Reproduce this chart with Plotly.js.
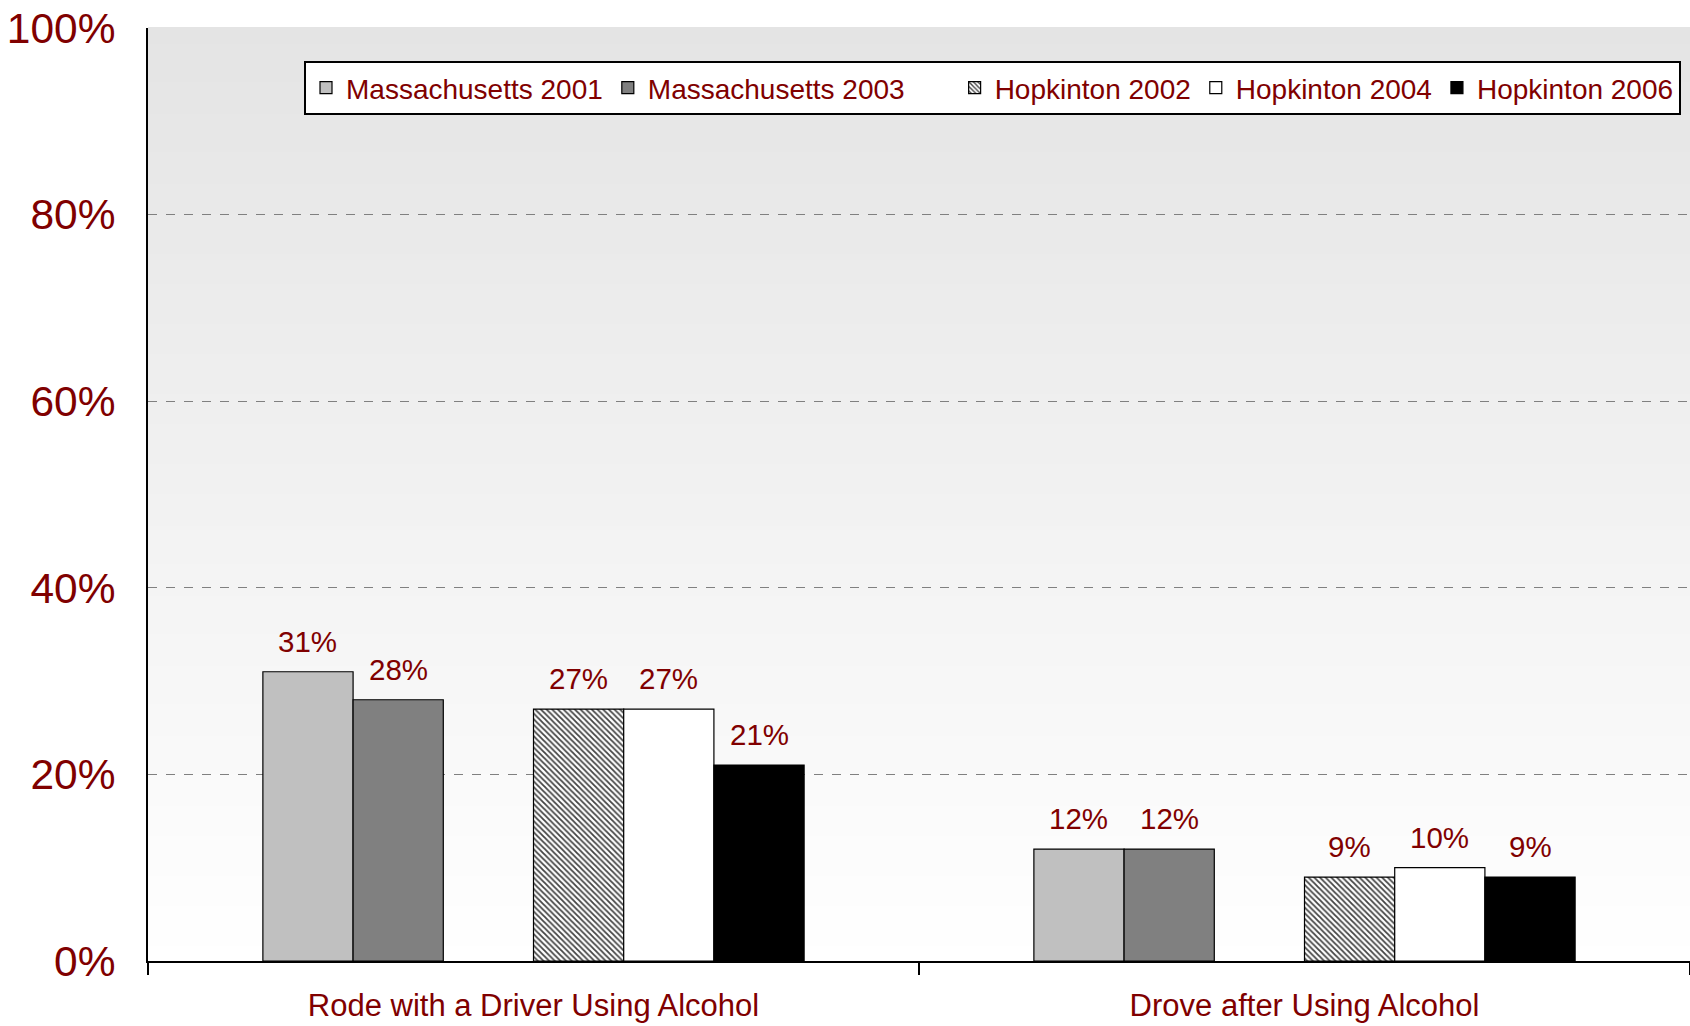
<!DOCTYPE html>
<html>
<head>
<meta charset="utf-8">
<script src="https://cdn.plot.ly/plotly-3.0.1.min.js"></script>
<style>
  html, body { margin: 0; padding: 0; background: #ffffff; }
  #chart { width: 1690px; height: 1026px; }
</style>
</head>
<body>
<div id="chart"></div>
<script>
// ---- data ----
const categories = ["Rode with a Driver Using Alcohol", "Drove after Using Alcohol"];
const seriesNames = ["Massachusetts 2001", "Massachusetts 2003", "", "Hopkinton 2002", "Hopkinton 2004", "Hopkinton 2006"];
const mass2001 = [31, 12];
const mass2003 = [28, 12];
const spacer = [null, null];
const hop2002 = [27, 9];
const hop2004 = [27, 10];
const hop2006 = [21, 9];
const seriesValues = [mass2001, mass2003, spacer, hop2002, hop2004, hop2006];
const yTickVals = [0, 20, 40, 60, 80, 100];
const yTickText = ["0%", "20%", "40%", "60%", "80%", "100%"];

// ---- styles ----
const darkRed = "#800000";
const fontFam = "Liberation Sans, Arial, sans-serif";
const fills = ["#C0C0C0", "#808080", "rgba(0,0,0,0)", "#ffffff", "#ffffff", "#000000"];

const W = 1690, H = 1026;
const margin = {l: 148, r: 0, t: 28, b: 65, autoexpand: false};
const bargap = 0.298;
const plotW = W - margin.l - margin.r;
const catW = plotW / categories.length;
const barW = catW * (1 - bargap) / seriesNames.length;

const traces = seriesNames.map((name, i) => {
  const t = {
    type: "bar",
    name: name,
    x: categories,
    y: seriesValues[i],
    marker: {
      color: fills[i],
      line: {color: i === 2 ? "rgba(0,0,0,0)" : "#000000", width: i === 2 ? 0 : 1.2}
    },
    hoverinfo: "skip"
  };
  if (i === 3) {
    t.marker.pattern = {shape: "\\", size: 4, fgcolor: "#444444", bgcolor: "#ffffff", solidity: 0.45, fillmode: "replace"};
  }
  return t;
});

// data labels
const annotations = [];
seriesValues.forEach((vals, i) => {
  vals.forEach((v, j) => {
    if (v === null) return;
    annotations.push({
      x: categories[j], y: v, xref: "x", yref: "y",
      xshift: (i - (seriesNames.length - 1) / 2) * barW,
      yshift: 12,
      yanchor: "bottom",
      text: v + "%",
      showarrow: false,
      font: {family: fontFam, size: 29.5, color: darkRed}
    });
  });
});

// gradient background strips
const shapes = [];
const N = 120;
const gradTop = [228, 228, 228], gradBot = [255, 255, 255];
for (let k = 0; k < N; k++) {
  const f = (k + 0.5) / N; // 0 bottom -> 1 top
  const c = gradBot.map((b, idx) => Math.round(b + (gradTop[idx] - b) * f));
  shapes.push({
    type: "rect", xref: "paper", yref: "paper",
    x0: 0, x1: 1, y0: k / N, y1: (k + 1) / N + 0.001,
    fillcolor: `rgb(${c[0]},${c[1]},${c[2]})`,
    line: {width: 0}, layer: "below"
  });
}

const layout = {
  width: W, height: H,
  margin: margin,
  paper_bgcolor: "#ffffff",
  plot_bgcolor: "#ffffff",
  barmode: "group",
  bargap: bargap,
  bargroupgap: 0,
  showlegend: true,
  legend: {
    orientation: "h",
    x: (304 - margin.l) / plotW, xanchor: "left",
    y: 1 - (61 - margin.t) / (H - margin.t - margin.b), yanchor: "top",
    bgcolor: "#ffffff", bordercolor: "#000000", borderwidth: 2,
    font: {family: fontFam, size: 28, color: darkRed},
    itemwidth: 30, tracegroupgap: 0,
    traceorder: "normal"
  },
  xaxis: {
    type: "category",
    showline: true, linecolor: "#000000", linewidth: 2,
    ticks: "outside", tickson: "boundaries", ticklen: 12, tickwidth: 1.5, tickcolor: "#000000",
    ticklabelstandoff: 16,
    tickfont: {family: fontFam, size: 31, color: darkRed},
    showgrid: false, zeroline: false,
    fixedrange: true
  },
  yaxis: {
    range: [0, 100],
    tickvals: yTickVals, ticktext: yTickText,
    showline: true, linecolor: "#000000", linewidth: 2,
    ticks: "", ticklabelstandoff: 22,
    tickfont: {family: fontFam, size: 42.5, color: darkRed},
    showgrid: true, gridcolor: "#808080", gridwidth: 1, griddash: "dash",
    zeroline: false,
    fixedrange: true
  },
  shapes: shapes,
  annotations: annotations
};

Plotly.newPlot("chart", traces, layout, {displayModeBar: false, staticPlot: true});
</script>
</body>
</html>
